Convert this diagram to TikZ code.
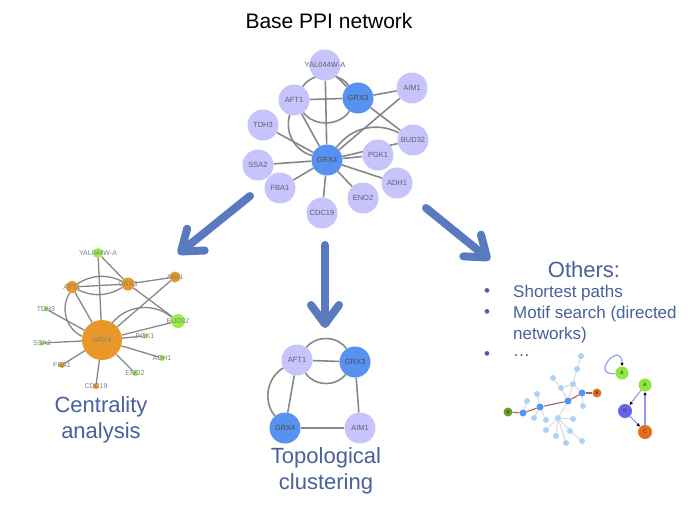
\documentclass[tikz,border=0pt]{standalone}
\usepackage{fontspec}
\setmainfont{Liberation Sans}
\usetikzlibrary{arrows.meta,backgrounds}
\definecolor{lav}{RGB}{198,196,250}
\definecolor{dblue}{RGB}{88,146,240}
\definecolor{egray}{RGB}{135,135,135}
\definecolor{labgray}{RGB}{95,95,115}
\definecolor{tblue}{RGB}{72,96,156}
\definecolor{ablue}{RGB}{90,122,192}
\definecolor{corange}{RGB}{232,152,40}
\definecolor{cgreen}{RGB}{150,238,70}
\definecolor{lblue}{RGB}{172,210,250}
\definecolor{pblue}{RGB}{80,150,250}
\definecolor{lgray}{RGB}{218,218,218}
\definecolor{pathred}{RGB}{175,95,95}
\definecolor{sgreen}{RGB}{105,160,45}
\definecolor{sorange}{RGB}{228,110,30}
\definecolor{mgreen}{RGB}{140,232,60}
\definecolor{mblue}{RGB}{100,100,240}
\definecolor{medge}{RGB}{150,150,250}
\begin{document}
\begin{tikzpicture}[x=1pt,y=-1pt,
  pnode/.style={circle, fill=lav, minimum size=31pt, inner sep=0pt, font=\fontsize{7.5}{8}\selectfont, text=labgray},
  pdark/.style={pnode, fill=dblue, text=black!70},
  plab/.style={font=\fontsize{7.5}{8}\selectfont, text=labgray, inner sep=0pt},
  pedge/.style={draw=egray, line width=1.6pt},
  cedge/.style={draw=egray, line width=1.3pt},
  cnode/.style={circle, inner sep=0pt, minimum size=#1},
  cor/.style={cnode=#1, fill=corange},
  cgr/.style={cnode=#1, fill=cgreen},
  clab/.style={font=\fontsize{7}{8}\selectfont, text=gray, inner sep=0pt},
  bigarrow/.style={draw=ablue, line width=8pt, line cap=round, -{Straight Barb[length=19pt,width=28pt,round]}},
  title/.style={font=\fontsize{22}{26}\selectfont, text=tblue, inner sep=0pt},
  btext/.style={font=\fontsize{17}{20}\selectfont, text=tblue, inner sep=0pt, anchor=west},
  lnode/.style={circle, fill=lblue, minimum size=6pt, inner sep=0pt},
  pnodeb/.style={circle, fill=pblue, minimum size=7pt, inner sep=0pt},
  ledge/.style={draw=lgray, line width=1pt},
  redge/.style={draw=pathred, line width=1.1pt},
  mnode/.style={circle, minimum size=13pt, inner sep=0pt, font=\fontsize{5}{6}\selectfont\bfseries, text=black!70},
  medg/.style={draw=medge, line width=1.1pt, -{Latex[length=3.5pt,width=3.5pt,color=black]}}
]
\begin{pgfonlayer}{background}
\fill[white] (0,0) rectangle (700,508);
\end{pgfonlayer}
\useasboundingbox (0,0) rectangle (700,508);

% ---------- title ----------
\node[font=\fontsize{21}{24}\selectfont, inner sep=0pt] (ttl) at (329,21) {Base PPI network};

% ---------- base network ----------
\node[pnode, label={[plab]center:YAL044W-A}] (yal) at (325,65) {};
\node[pdark] (grx3) at (358,98) {GRX3};
\node[pnode] (aft1) at (294,100) {AFT1};
\node[pnode] (aim1) at (412,88) {AIM1};
\node[pnode] (tdh3) at (263,125) {TDH3};
\node[pnode] (bud32) at (413,140) {BUD32};
\node[pdark] (grx4) at (327,160) {GRX4};
\node[pnode] (pgk1) at (378,155) {PGK1};
\node[pnode] (ssa2) at (258,165) {SSA2};
\node[pnode] (adh1) at (397,183) {ADH1};
\node[pnode] (fba1) at (280,188) {FBA1};
\node[pnode] (eno2) at (363,198) {ENO2};
\node[pnode] (cdc19) at (322,213) {CDC19};

\begin{pgfonlayer}{background}
\draw[pedge] (yal) -- (grx3);
\draw[pedge] (yal) -- (grx4);
\draw[pedge] (aft1) -- (grx3);
\draw[pedge] (aft1) to[bend left=55] (grx3);
\draw[pedge] (aft1) to[bend right=55] (grx3);
\draw[pedge] (grx3) -- (aim1);
\draw[pedge] (grx3) -- (bud32);
\draw[pedge] (aim1) -- (grx4);
\draw[pedge] (aft1) -- (grx4);
\draw[pedge] (aft1) to[bend right=45] (grx4);
\draw[pedge] (tdh3) -- (grx4);
\draw[pedge] (ssa2) -- (grx4);
\draw[pedge] (fba1) -- (grx4);
\draw[pedge] (cdc19) -- (grx4);
\draw[pedge] (eno2) -- (grx4);
\draw[pedge] (adh1) -- (grx4);
\draw[pedge] (pgk1) -- (grx4);
\draw[pedge] (grx4) -- (bud32);
\draw[pedge] (grx4) to[bend left=40] (bud32);
\end{pgfonlayer}

% ---------- arrows ----------
\coordinate (a1s) at (250,196);
\coordinate (a1e) at (178,254);
\coordinate (a2s) at (325,245);
\coordinate (a2e) at (325,328);
\coordinate (a3s) at (426,208);
\coordinate (a3e) at (490,260);
\draw[bigarrow] (a1s) -- (a1e);
\draw[bigarrow] (a2s) -- (a2e);
\draw[bigarrow] (a3s) -- (a3e);

% ---------- centrality network ----------
\node[cgr=10pt, label={[clab]center:YAL044W-A}] (cyal) at (98,253) {};
\node[cor=12pt, label={[clab]center:AFT1}] (caft) at (72,287) {};
\node[cor=13pt, label={[clab]center:GRX3}] (cgrx3) at (128,284) {};
\node[cor=11pt, label={[clab]center:AIM1}] (caim) at (175,277) {};
\node[cgr=5pt, label={[clab]center:TDH3}] (ctdh) at (46,309) {};
\node[cgr=14pt, label={[clab]center:BUD32}] (cbud) at (178,321) {};
\node[cor=40pt, label={[clab]center:GRX4}] (cgrx4) at (102,340) {};
\node[cgr=5pt, label={[clab]center:PGK1}] (cpgk) at (145,336) {};
\node[cgr=5pt, label={[clab]center:SSA2}] (cssa) at (42,343) {};
\node[cgr=6pt, label={[clab]center:ADH1}] (cadh) at (162,358) {};
\node[cor=6pt, label={[clab]center:FBA1}] (cfba) at (62,365) {};
\node[cgr=6pt, label={[clab]center:ENO2}] (ceno) at (135,373) {};
\node[cor=6pt, label={[clab]center:CDC19}] (ccdc) at (96,386) {};

\begin{pgfonlayer}{background}
\draw[cedge] (cyal) -- (cgrx3);
\draw[cedge] (cyal) -- (cgrx4);
\draw[cedge] (caft) -- (cgrx3);
\draw[cedge] (caft) to[bend left=28] (cgrx3);
\draw[cedge] (caft) to[bend right=28] (cgrx3);
\draw[cedge] (cgrx3) -- (caim);
\draw[cedge] (cgrx3) -- (cbud);
\draw[cedge] (caim) -- (cgrx4);
\draw[cedge] (caft) -- (cgrx4);
\draw[cedge] (caft) to[bend right=50] (cgrx4);
\draw[cedge] (ctdh) -- (cgrx4);
\draw[cedge] (cssa) -- (cgrx4);
\draw[cedge] (cfba) -- (cgrx4);
\draw[cedge] (ccdc) -- (cgrx4);
\draw[cedge] (ceno) -- (cgrx4);
\draw[cedge] (cadh) -- (cgrx4);
\draw[cedge] (cpgk) -- (cgrx4);
\draw[cedge] (cbud) -- (cgrx4);
\draw[cedge] (cgrx4) to[bend left=45] (cbud);
\end{pgfonlayer}

\node[title] (cent1) at (101,407) {Centrality};
\node[title] (cent2) at (101,433) {analysis};

% ---------- topological clustering ----------
\node[pnode] (taft) at (297,360) {AFT1};
\node[pdark] (tgrx3) at (355,362) {GRX3};
\node[pdark] (tgrx4) at (285,428) {GRX4};
\node[pnode] (taim) at (360,428) {AIM1};
\begin{pgfonlayer}{background}
\draw[pedge] (taft) -- (tgrx3);
\draw[pedge] (taft) to[bend left=55] (tgrx3);
\draw[pedge] (taft) to[bend right=55] (tgrx3);
\draw[pedge] (taft) -- (tgrx4);
\draw[pedge] (taft) to[bend right=50] (tgrx4);
\draw[pedge] (tgrx3) -- (taim);
\draw[pedge] (tgrx4) -- (taim);
\end{pgfonlayer}
\node[title] (top1) at (326,458) {Topological};
\node[title] (top2) at (326,484) {clustering};

% ---------- others ----------
\node[title] (oth) at (584,270) {Others:};
\node[btext] (b1) at (484,293) {•};
\node[btext] (t1) at (513,293) {Shortest paths};
\node[btext] (b2) at (484,314) {•};
\node[btext] (t2) at (513,314) {Motif search (directed};
\node[btext] (t3) at (513,335) {networks)};
\node[btext] (b4) at (484,356) {•};
\node[btext] (t4) at (513,356) {…};

% shortest path network
\node[circle, fill=sgreen, minimum size=9pt, inner sep=0pt, font=\fontsize{4}{5}\selectfont] (sA) at (508,412) {A};
\node[pnodeb] (s1) at (523,413) {};
\node[pnodeb] (s2) at (540,407) {};
\node[pnodeb] (s3) at (568,401) {};
\node[pnodeb] (s4) at (582,393) {};
\node[circle, fill=sorange, minimum size=9pt, inner sep=0pt, font=\fontsize{4}{5}\selectfont] (sB) at (597,393) {B};
\node[lnode] (l1) at (527,401) {};
\node[lnode] (l2) at (537,394) {};
\node[lnode] (l3) at (534,418) {};
\node[lnode] (l4) at (546,420) {};
\node[lnode] (l5) at (553,378) {};
\node[lnode] (l6) at (561,388) {};
\node[lnode] (l7) at (573,384) {};
\node[lnode] (l8) at (577,369) {};
\node[lnode] (l9) at (581,356) {};
\node[lnode] (l10) at (583,406) {};
\node[lnode] (hub) at (558,418) {};
\node[lnode] (h1) at (573,419) {};
\node[lnode] (h2) at (546,430) {};
\node[lnode] (h3) at (556,436) {};
\node[lnode] (h4) at (566,443) {};
\node[lnode] (h5) at (570,431) {};
\node[lnode] (h6) at (582,441) {};
\begin{pgfonlayer}{background}
\draw[ledge] (l1) -- (s1);
\draw[ledge] (l2) -- (s2);
\draw[ledge] (l3) -- (s2);
\draw[ledge] (l4) -- (s2);
\draw[ledge] (l5) -- (l6);
\draw[ledge] (l6) -- (s3);
\draw[ledge] (l6) -- (l7);
\draw[ledge] (l7) -- (s3);
\draw[ledge] (l7) -- (s4);
\draw[ledge] (l7) -- (l8);
\draw[ledge] (l8) -- (l9);
\draw[ledge] (l10) -- (s4);
\draw[ledge] (hub) -- (s3);
\draw[ledge] (hub) -- (h1);
\draw[ledge] (hub) -- (h2);
\draw[ledge] (hub) -- (h3);
\draw[ledge] (hub) -- (h4);
\draw[ledge] (hub) -- (h5);
\draw[ledge] (h5) -- (h6);
\draw[redge] (sA) -- (s1);
\draw[redge] (s1) -- (s2);
\draw[redge] (s2) -- (s3);
\draw[redge] (s3) -- (s4);
\draw[redge] (s4) -- (sB);
\end{pgfonlayer}

% motifs
\node[mnode, fill=mgreen] (ma) at (622,373) {A};
\node[mnode, fill=mgreen] (mA) at (645,385) {A};
\node[mnode, fill=mblue, minimum size=14pt] (mB) at (625,411) {B};
\node[mnode, fill=sorange, minimum size=14pt] (mC) at (645,432) {C};
\draw[medg] (ma) to[out=185, in=90, looseness=7] (ma);
\draw[medg] (mA) -- (mB);
\draw[medg] (mB) -- (mC);
\draw[medg] (mC) -- (mA);
\end{tikzpicture}
\end{document}
